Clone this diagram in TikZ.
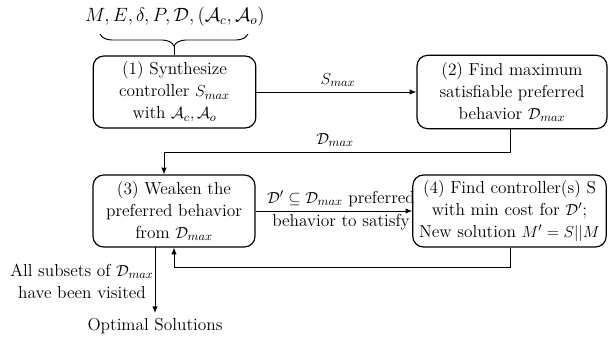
\documentclass[tikz,border=0pt]{standalone}
\usetikzlibrary{arrows.meta,decorations.pathreplacing}
\begin{document}
\begin{tikzpicture}[x=0.75pt,y=-0.75pt,
  txt/.style={font=\fontsize{13}{16.5}\selectfont,align=center,inner sep=1pt},
  box/.style={txt,draw,rounded corners=8pt,line width=0.9pt,inner sep=0pt},
  conn/.style={-{Latex[length=5pt,width=4pt]},line width=0.7pt},
  plain/.style={line width=0.7pt}]
\useasboundingbox (0,0) rectangle (611,339);
\node[box,minimum width=122pt,minimum height=54pt] (b1) at (174.5,92)
  {(1) Synthesize\\controller $S_{max}$\\with $\mathcal{A}_c,\mathcal{A}_o$};
\node[box,minimum width=142.5pt,minimum height=55pt] (b2) at (512,92)
  {(2) Find maximum\\satisfiable preferred\\behavior $\mathcal{D}_{max}$};
\node[box,minimum width=121.5pt,minimum height=54pt] (b3) at (174,211)
  {(3) Weaken the\\preferred behavior\\from $\mathcal{D}_{max}$};
\node[box,minimum width=145pt,minimum height=54pt] (b4) at (509.5,211)
  {(4) Find controller(s) S\\with min cost for $\mathcal{D}'$;\\New solution $M'=S||M$};
% inputs
\node[txt,font=\fontsize{14}{16.5}\selectfont] (in) at (175,17) {$M,E,\delta,P,\mathcal{D},(\mathcal{A}_c,\mathcal{A}_o)$};
\coordinate (bl) at (100,34);
\coordinate (br) at (248,34);
\coordinate (tip) at (174,46);
\draw[plain,decorate,decoration={brace,mirror,amplitude=9pt,aspect=0.5}] (bl) -- (br);
\draw[plain] (tip) -- (tip |- b1.north);
% S_max
\draw[conn] (b1.east) -- (b2.west);
\node[txt] (ls) at (338,80) {$S_{max}$};
% D_max
\coordinate (c1) at (510,152);
\coordinate (c2) at (164,152);
\draw[conn] (c1 |- b2.south) -- (c1) -- (c2) -- (c2 |- b3.north);
\node[txt] (ld) at (335,140) {$\mathcal{D}_{max}$};
% D'
\draw[conn] (b3.east) -- (b4.west);
\node[txt] (la) at (341,199) {$\mathcal{D}'\subseteq\mathcal{D}_{max}$ preferred};
\node[txt] (lb) at (341,222) {behavior to satisfy};
% return
\coordinate (r1) at (510,267);
\coordinate (r2) at (174,267);
\draw[conn] (r1 |- b4.south) -- (r1) -- (r2) -- (r2 |- b3.south);
% exit
\coordinate (e0) at (155,247);
\coordinate (e1) at (155,313);
\draw[conn] (e0) -- (e1);
\node[txt] (lv) at (82,281) {All subsets of $\mathcal{D}_{max}$\\have been visited};
\node[txt] (opt) at (155,326) {Optimal Solutions};
\end{tikzpicture}
\end{document}
